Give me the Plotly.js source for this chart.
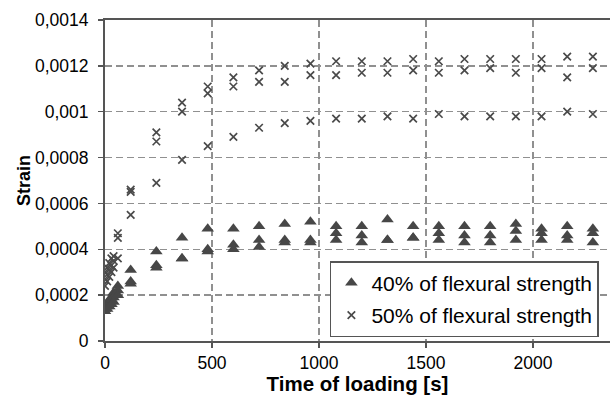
<!DOCTYPE html>
<html>
<head>
<meta charset="utf-8">
<script src="https://cdn.plot.ly/plotly-3.0.1.min.js"></script>
<style>html,body{margin:0;padding:0;background:#fff;}#chart{width:610px;height:395px;}</style>
</head>
<body>
<div id="chart"></div>
<script>
// Time of loading [s]
var times = [0, 10, 20, 30, 40, 60, 120, 240, 360, 480, 600, 720, 840, 960, 1080, 1200, 1320, 1440, 1560, 1680, 1800, 1920, 2040, 2160, 2280];

// 40% of flexural strength – three specimens
var s40a = [0.00015, 0.00016, 0.00018, 0.00019, 0.00021, 0.00024, 0.00031, 0.00039, 0.00045, 0.00049, 0.00049, 0.00050, 0.00051, 0.00052, 0.00050, 0.00050, 0.00053, 0.00050, 0.00050, 0.00050, 0.00050, 0.00051, 0.00049, 0.00050, 0.00049];
var s40b = [0.00014, 0.00015, 0.00016, 0.00018, 0.00019, 0.00022, 0.00026, 0.00033, 0.00036, 0.00040, 0.00042, 0.00044, 0.00044, 0.00044, 0.00047, 0.00046, 0.00044, 0.00045, 0.00047, 0.00046, 0.00046, 0.00048, 0.00047, 0.00046, 0.00047];
var s40c = [0.00013, 0.00014, 0.00015, 0.00016, 0.00017, 0.00020, 0.00025, 0.00032, 0.00036, 0.00039, 0.00040, 0.00041, 0.00043, 0.00043, 0.00044, 0.00043, 0.00044, 0.00045, 0.00044, 0.00043, 0.00043, 0.00044, 0.00044, 0.00044, 0.00043];

// 50% of flexural strength – three specimens
var s50a = [0.00030, 0.00032, 0.00034, 0.00036, 0.00037, 0.00047, 0.00066, 0.00091, 0.00104, 0.00111, 0.00115, 0.00118, 0.00120, 0.00121, 0.00122, 0.00122, 0.00122, 0.00123, 0.00122, 0.00123, 0.00123, 0.00123, 0.00123, 0.00124, 0.00124];
var s50b = [0.00027, 0.00029, 0.00031, 0.00033, 0.00035, 0.00045, 0.00065, 0.00087, 0.00100, 0.00108, 0.00111, 0.00113, 0.00113, 0.00116, 0.00116, 0.00117, 0.00117, 0.00118, 0.00117, 0.00118, 0.00119, 0.00117, 0.00119, 0.00115, 0.00119];
var s50c = [0.00024, 0.00026, 0.00028, 0.00030, 0.00032, 0.00036, 0.00055, 0.00069, 0.00079, 0.00085, 0.00089, 0.00093, 0.00095, 0.00096, 0.00097, 0.00097, 0.00098, 0.00097, 0.00099, 0.00098, 0.00098, 0.00098, 0.00098, 0.00100, 0.00099];

var seriesNames = ['40% of flexural strength', '50% of flexural strength'];

function rep(arr, n) { var out = []; for (var i = 0; i < n; i++) out = out.concat(arr); return out; }

var trace40 = {
  type: 'scatter', mode: 'markers', name: seriesNames[0], legendgroup: 'g40',
  x: rep(times, 3), y: s40a.concat(s40b, s40c),
  marker: {symbol: 'triangle-up', size: 11, color: '#474747', line: {width: 0}}
};
var trace50 = {
  type: 'scatter', mode: 'markers', name: seriesNames[1], legendgroup: 'g50',
  x: rep(times, 3), y: s50a.concat(s50b, s50c),
  marker: {symbol: 'x-thin-open', size: 7.5, color: '#4a4a4a', line: {width: 1.7, color: '#4a4a4a'}}
};

var layout = {
  width: 610, height: 395,
  margin: {l: 105, r: 0, t: 20, b: 54},
  paper_bgcolor: '#fff', plot_bgcolor: '#fff',
  separators: ', ',
  font: {family: '"Liberation Sans", Arial, sans-serif', color: '#000', size: 17.5},
  showlegend: true,
  legend: {
    x: 0.978, y: 0.012, xanchor: 'right', yanchor: 'bottom',
    bgcolor: '#fff', bordercolor: '#555', borderwidth: 1.5,
    font: {size: 21, color: '#000'},
    traceorder: 'grouped', tracegroupgap: 2
  },
  xaxis: {
    range: [0, 2360], dtick: 500, tick0: 0,
    showline: true, linecolor: '#555', linewidth: 2, mirror: true,
    ticks: 'outside', ticklen: 5, tickcolor: '#555', tickwidth: 1.5,
    showgrid: true, gridcolor: '#909090', gridwidth: 1.5, griddash: '7px,4px',
    zeroline: false,
    tickfont: {size: 17.5},
    title: {text: '<b>Time of loading [s]</b>', font: {size: 20.5}, standoff: 0}
  },
  yaxis: {
    range: [0, 0.0014], dtick: 0.0002, tick0: 0, tickformat: '.4~f',
    showline: true, linecolor: '#555', linewidth: 2,
    ticks: 'outside', ticklen: 5, tickcolor: '#555', tickwidth: 1.5,
    ticklabelstandoff: 6,
    showgrid: true, gridcolor: '#909090', gridwidth: 1.5, griddash: '7px,4px',
    zeroline: false,
    tickfont: {size: 17.5},
    title: {text: '<b>Strain</b>', font: {size: 18}, standoff: 0}
  }
};

Plotly.newPlot('chart', [trace40, trace50], layout, {displayModeBar: false, staticPlot: true});
</script>
</body>
</html>
